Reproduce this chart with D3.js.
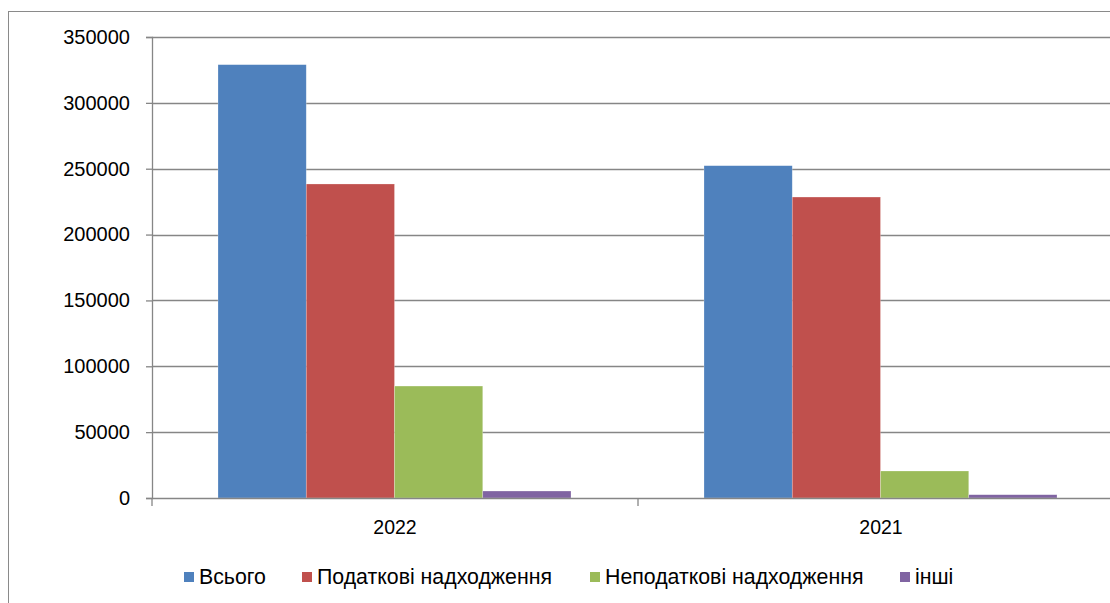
<!DOCTYPE html>
<html>
<head>
<meta charset="utf-8">
<script src="https://cdn.jsdelivr.net/npm/d3@7"></script>
<style>
  body { margin: 0; background: #fff; }
  svg { display: block; font-family: "Liberation Sans", Arial, sans-serif; }
</style>
</head>
<body>
<svg width="1110" height="603"></svg>
<script>
var years = ["2022", "2021"];
var seriesNames = ["Всього", "Податкові надходження", "Неподаткові надходження", "інші"];
var seriesColors = ["#4f81bd", "#c0504d", "#9bbb59", "#8064a2"];
var total    = [329000, 252300];
var taxes    = [238400, 228500];
var nonTaxes = [85000, 20500];
var other    = [5300, 2500];
var yTicks   = [0, 50000, 100000, 150000, 200000, 250000, 300000, 350000];

var seriesValues = [total, taxes, nonTaxes, other];

var svg = d3.select("svg");
var margin = {left: 152, top: 37};
var width = 972, height = 461;

// chart frame
svg.append("rect")
  .attr("x", 8.5).attr("y", 11.5)
  .attr("width", 1200).attr("height", 700)
  .attr("fill", "none")
  .attr("stroke", "#8a8a8a")
  .attr("stroke-width", 1);

var chartGroup = svg.append("g")
  .attr("transform", "translate(" + margin.left + "," + margin.top + ")");

var y = d3.scaleLinear().domain([0, 350000]).range([height, 0]);
var x0 = d3.scaleBand().domain(years).range([0, width]).paddingInner(0).paddingOuter(0);
var x1 = d3.scaleBand().domain(seriesNames)
  .range([66, x0.bandwidth() - 67]);

// gridlines
chartGroup.append("g")
  .selectAll("line")
  .data(yTicks.slice(1))
  .join("line")
  .attr("x1", 0).attr("x2", width)
  .attr("y1", function(d){ return Math.round(y(d)) + 0.5; })
  .attr("y2", function(d){ return Math.round(y(d)) + 0.5; })
  .attr("stroke", "#868686")
  .attr("stroke-width", 1.3);

// bars
var groups = chartGroup.append("g")
  .selectAll("g")
  .data(years)
  .join("g")
  .attr("transform", function(d){ return "translate(" + x0(d) + ",0)"; });

groups.selectAll("rect")
  .data(function(d, i){
    return seriesNames.map(function(s, j){ return {name: s, value: seriesValues[j][i], color: seriesColors[j]}; });
  })
  .join("rect")
  .attr("x", function(d){ return x1(d.name); })
  .attr("width", x1.bandwidth())
  .attr("y", function(d){ return y(d.value); })
  .attr("height", function(d){ return height - y(d.value); })
  .attr("fill", function(d){ return d.color; })
  .attr("stroke", "#fff")
  .attr("stroke-opacity", 0.4)
  .attr("stroke-width", 0.6);

// y axis
var yAxis = d3.axisLeft(y).tickValues(yTicks).tickSize(6).tickPadding(16).tickFormat(d3.format("d"));
var yg = chartGroup.append("g").call(yAxis);
yg.select(".domain").attr("stroke", "#868686").attr("stroke-width", 1.3);
yg.selectAll(".tick line").attr("stroke", "#868686").attr("stroke-width", 1.3);
yg.selectAll("text").attr("font-size", 20).attr("fill", "#000").attr("font-family", "Liberation Sans, Arial, sans-serif");

// x axis
var xAxis = d3.axisBottom(x0).tickSize(0).tickPadding(22);
var xg = chartGroup.append("g")
  .attr("transform", "translate(0," + height + ")")
  .call(xAxis);
xg.select(".domain").attr("stroke", "#868686").attr("stroke-width", 1.3);
xg.selectAll("text").attr("font-size", 19.5).attr("fill", "#000").attr("font-family", "Liberation Sans, Arial, sans-serif");
xg.append("g")
  .selectAll("line")
  .data([0, x0.bandwidth(), width])
  .join("line")
  .attr("x1", function(d){ return d; }).attr("x2", function(d){ return d; })
  .attr("y1", 0).attr("y2", 8)
  .attr("stroke", "#868686").attr("stroke-width", 1.3);

// legend
var legendX = [184, 302, 590, 900];
var legend = svg.append("g").attr("transform", "translate(0,577)");
var items = legend.selectAll("g")
  .data(seriesNames)
  .join("g")
  .attr("transform", function(d, i){ return "translate(" + legendX[i] + ",0)"; });
items.append("rect")
  .attr("x", 0).attr("y", -5)
  .attr("width", 10).attr("height", 10)
  .attr("fill", function(d, i){ return seriesColors[i]; });
items.append("text")
  .attr("x", 15).attr("y", 0)
  .attr("dy", "0.35em")
  .attr("font-size", 21.3)
  .text(function(d){ return d; });
</script>
</body>
</html>
